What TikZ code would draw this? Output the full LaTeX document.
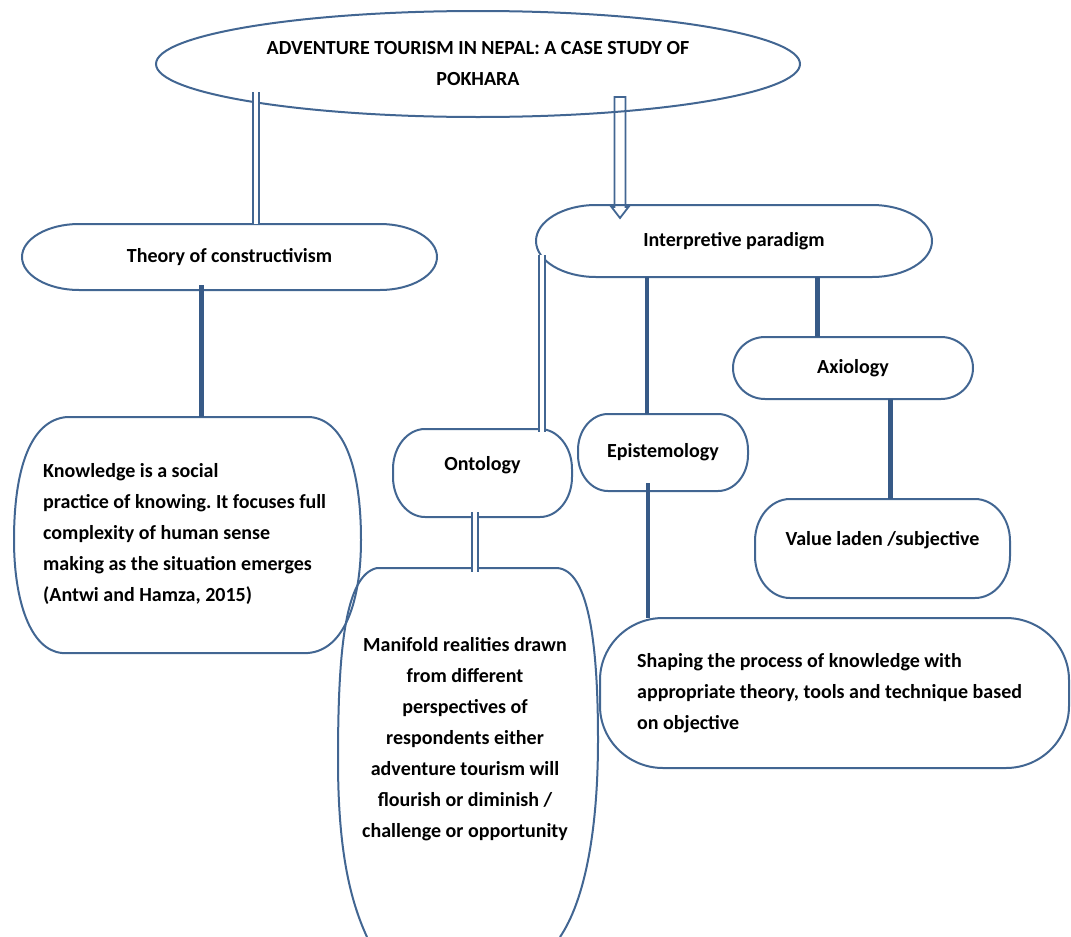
\documentclass[tikz,border=0pt]{standalone}
\usepackage{fontspec}
\setmainfont{Carlito}
\frenchspacing
\usetikzlibrary{calc,shapes.geometric}
\definecolor{ln}{RGB}{66,102,146}
\definecolor{lnd}{RGB}{55,90,135}
\newcommand\ebox[3]{%
  \draw[boxline] ($(#1.north west)+(#2,0)$) -- ($(#1.north east)+(-#2,0)$)
    .. controls +(0.55*#2,0) and +(0,-0.55*#3) .. ($(#1.north east)+(0,#3)$)
    -- ($(#1.south east)+(0,-#3)$)
    .. controls +(0,0.55*#3) and +(0.55*#2,0) .. ($(#1.south east)+(-#2,0)$)
    -- ($(#1.south west)+(#2,0)$)
    .. controls +(-0.55*#2,0) and +(0,0.55*#3) .. ($(#1.south west)+(0,-#3)$)
    -- ($(#1.north west)+(0,#3)$)
    .. controls +(0,-0.55*#3) and +(-0.55*#2,0) .. ($(#1.north west)+(#2,0)$) -- cycle;}
\begin{document}
\begin{tikzpicture}[x=1pt,y=-1pt,
  every node/.style={font=\fontsize{20}{31}\selectfont\bfseries, text=black},
  boxline/.style={draw=ln, line width=2pt},
  frame/.style={rectangle, draw=none, inner sep=0pt, outer sep=0pt},
  txt/.style={inner sep=0pt, align=left},
  dbl/.style={draw=ln, line width=1.8pt, double=white, double distance=3.6pt},
  thk/.style={draw=lnd, line width=5pt},
  mid/.style={draw=lnd, line width=4pt}]
\useasboundingbox (0,0) rectangle (1071,937);
% shapes
\node[ellipse, draw=ln, line width=2pt, minimum width=644pt, minimum height=106pt, inner sep=0pt, align=center] (title) at (478,64)
  {ADVENTURE TOURISM IN NEPAL: A CASE STUDY OF\\POKHARA};
\node[frame, minimum width=415pt, minimum height=66pt] (theory) at (229.5,257) {Theory of constructivism};
\node[frame, minimum width=396pt, minimum height=72pt] (interp) at (734,241) {Interpretive paradigm};
\node[frame, minimum width=240pt, minimum height=62pt] (axio) at (853,368) {Axiology};
\node[frame, minimum width=170pt, minimum height=77pt] (epis) at (663,452.5) {Epistemology};
\node[frame, minimum width=179pt, minimum height=88pt, text height=14pt, text depth=20pt] (onto) at (482.5,473) {Ontology};
\node[frame, minimum width=255pt, minimum height=99pt, text height=14pt, text depth=21pt] (value) at (882.5,548.5) {Value laden /subjective};
\node[frame, minimum width=469pt, minimum height=150pt] (shaping) at (834.5,693) {};
\node[frame, minimum width=348pt, minimum height=236pt] (know) at (187.5,535) {};
\node[frame, minimum width=260pt, minimum height=368pt] (mani) at (475,752) {};
\ebox{theory}{57}{33}
\ebox{interp}{60}{36}
\ebox{axio}{32}{31}
\ebox{epis}{30}{36}
\ebox{onto}{32}{40}
\ebox{value}{35}{42}
\ebox{shaping}{63}{62}
\draw[boxline] (67,417) -- (310,417) .. controls (345,420) and (361,470) .. (361,540)
  .. controls (361,600) and (345,650) .. (308,653) -- (62,653)
  .. controls (30,650) and (14,600) .. (14,540)
  .. controls (14,470) and (30,420) .. (67,417) -- cycle;
\draw[boxline] (367,937) .. controls (350,900) and (338,850) .. (338,760)
  .. controls (338,650) and (345,575) .. (377,568) -- (557,568)
  .. controls (590,570) and (598,650) .. (598,740)
  .. controls (598,830) and (585,900) .. (560,937);
% texts
\node[txt, anchor=west] (knowtext) at (43,534) {Knowledge is a social\\practice of knowing. It focuses full\\complexity of human sense\\making as the situation emerges\\(Antwi and Hamza, 2015)};
\node[txt, align=center] (manitext) at (465,739) {Manifold realities drawn\\from different\\perspectives of\\respondents either\\adventure tourism will\\flourish or diminish /\\challenge or opportunity};
\node[txt, anchor=west] (shtext) at (637,693) {Shaping the process of knowledge with\\appropriate theory, tools and technique based\\on objective};
% connectors
\coordinate (t1) at ($(title.center)+(-222,28)$);
\draw[dbl] (t1) -- (t1 |- theory.north);
\coordinate (t2) at ($(title.center)+(142,33)$);
\coordinate (t2e) at (t2 |- interp.north);
\draw[draw=ln, line width=1.8pt, line join=miter]
  ($(t2)+(-5.5,0)$) -- ($(t2)+(5.5,0)$) -- ($(t2e)+(5.5,2)$) -- ($(t2e)+(8.5,2)$)
  -- ($(t2e)+(0,13)$) -- ($(t2e)+(-8.5,2)$) -- ($(t2e)+(-5.5,2)$) -- cycle;
\coordinate (c3) at ($(theory.south)+(-28.5,-5)$);
\draw[thk] (c3) -- (c3 |- know.north);
\coordinate (c4) at ($(interp.west)+(6,14)$);
\draw[dbl] (c4) -- ($(c4 |- onto.north)+(0,3)$);
\coordinate (c5) at ($(interp.south)+(-87,0)$);
\draw[mid] (c5) -- (c5 |- epis.north);
\coordinate (c6) at ($(interp.south)+(83,0)$);
\draw[thk] (c6) -- (c6 |- axio.north);
\coordinate (c7) at ($(onto.south)+(-7.5,-5)$);
\draw[dbl] (c7) -- ($(c7 |- mani.north)+(0,4)$);
\coordinate (c8) at ($(axio.south)+(37,0)$);
\draw[thk] (c8) -- (c8 |- value.north);
\coordinate (c9) at ($(epis.south)+(-15,-8)$);
\draw[mid] (c9) -- (c9 |- shaping.north);
\end{tikzpicture}
\end{document}
